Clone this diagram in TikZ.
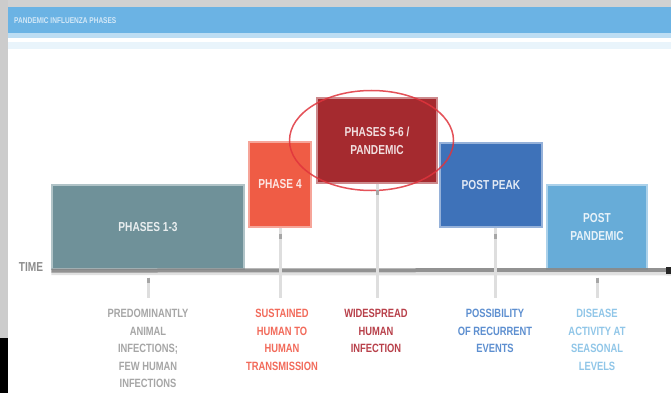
\documentclass[tikz,border=0pt]{standalone}
\usepackage{fontspec}
\setmainfont{Liberation Sans}[FakeStretch=0.78]
\usepackage{tikz}
\usetikzlibrary{positioning}

\definecolor{headblue}{HTML}{6BB3E4}
\definecolor{cteal}{HTML}{6F9199}
\definecolor{cphasefour}{HTML}{EF5C45}
\definecolor{cpandemic}{HTML}{A52A2F}
\definecolor{cpeak}{HTML}{3E72B9}
\definecolor{cpost}{HTML}{67ACD8}
\definecolor{ringred}{HTML}{E0343C}
\definecolor{tgray}{HTML}{A6A6A6}
\definecolor{tphasefour}{HTML}{F26A5A}
\definecolor{tpandemic}{HTML}{B8404A}
\definecolor{tpeak}{HTML}{5D8FD0}
\definecolor{tpost}{HTML}{90C6E8}

\begin{document}
\begin{tikzpicture}[x=1pt,y=-1pt,
    phasebox/.style={draw=#1!55!white, fill=#1, line width=1.2pt, text=white,
      text opacity=0.85, align=center, inner sep=0pt,
      font=\bfseries\fontsize{13}{18}\selectfont},
    note/.style={align=center, anchor=north, inner sep=0pt,
      font=\bfseries\fontsize{12}{17.5}\selectfont},
    tick/.style={line width=3pt, draw=black!13},
    tickcap/.style={line width=3pt, draw=black!35}]
        % background and header
        \fill[white] (0,0) rectangle (671,393);
        \useasboundingbox (0,0) rectangle (671,393);
        \fill[black!18] (0,0) rectangle (671,7);
        \fill[black!20] (0,0) rectangle (8,393);
        \fill[black] (0,338) rectangle (8,393);
        \fill[headblue] (8,7) rectangle (671,33);
        \fill[headblue!45] (8,33) rectangle (671,38);
        \fill[headblue!15] (8,42) rectangle (671,49);
        \node[anchor=west, inner sep=0pt, text=white!70!headblue,
          font=\bfseries\fontsize{8.4}{10}\selectfont] (title) at (14,21) {PANDEMIC INFLUENZA PHASES};

        % phases
        \node[phasebox=cteal, minimum width=192, minimum height=84] (p13) at (148,227) {PHASES 1-3};
        \node[phasebox=cphasefour, minimum width=62, minimum height=85] (p4) at (280,184.5) {PHASE 4};
        \node[phasebox=cpandemic, minimum width=120, minimum height=85] (p56) at (377,140.5) {PHASES 5-6 /\\PANDEMIC};
        \node[phasebox=cpeak, minimum width=102, minimum height=84] (peak) at (491,185) {POST PEAK};
        \node[phasebox=cpost, minimum width=100, minimum height=84] (post) at (597,227) {POST\\PANDEMIC};
        \draw[ringred, line width=1.5pt, opacity=0.85] ([xshift=-5.5pt]p56.center) ellipse[x radius=82, y radius=50];

        % time line
        \coordinate (tend) at (671,270);
        \draw[line width=3pt, black!12] ([yshift=-4pt]p13.south west) -- ([yshift=-4pt]tend);
        \draw[line width=4pt, black!50, opacity=0.85] ([yshift=-1pt]p13.south west) -- (tend);
        \draw[line width=7pt, black!85] ([xshift=-5pt]tend) -- (tend);
        \node[left=8pt of p13.south west, inner sep=0pt, text=black!45,
          font=\bfseries\fontsize{13}{14}\selectfont, yshift=3pt] (time) {TIME};

        % notes
        \node[note, text=tgray] (n13) at (148,309) {PREDOMINANTLY\\ANIMAL\\INFECTIONS;\\FEW HUMAN\\INFECTIONS};
        \node[note, text=tphasefour] (n4) at (282,309) {SUSTAINED\\HUMAN TO\\HUMAN\\TRANSMISSION};
        \node[note, text=tpandemic] (n56) at (376,309) {WIDESPREAD\\HUMAN\\INFECTION};
        \node[note, text=tpeak] (npeak) at (495,309) {POSSIBILITY\\OF RECURRENT\\EVENTS};
        \node[note, text=tpost] (npost) at (597,309) {DISEASE\\ACTIVITY AT\\SEASONAL\\LEVELS};

        % ticks
        \draw[tick] ([yshift=-8pt]p13.south) -- ([yshift=11pt]p13.south |- n13.north);
        \draw[tick] (p4.south) -- ([yshift=11pt]p4.south |- n4.north);
        \draw[tick] (p56.south) -- ([yshift=11pt]p56.south |- n56.north);
        \draw[tick] ([xshift=4pt]peak.south) -- ([yshift=11pt,xshift=4pt]peak.south |- npeak.north);
        \draw[tick] ([yshift=-8pt]post.south) -- ([yshift=11pt]post.south |- npost.north);
        \draw[tickcap] ([yshift=-8pt]p13.south) -- ++(0,5);
        \draw[tickcap] ([yshift=-6pt]p4.south) -- ++(0,5);
        \draw[tickcap] ([yshift=-6pt]p56.south) -- ++(0,5);
        \draw[tickcap] ([yshift=-6pt,xshift=4pt]peak.south) -- ++(0,5);
        \draw[tickcap] ([yshift=-8pt]post.south) -- ++(0,5);
\end{tikzpicture}
\end{document}
